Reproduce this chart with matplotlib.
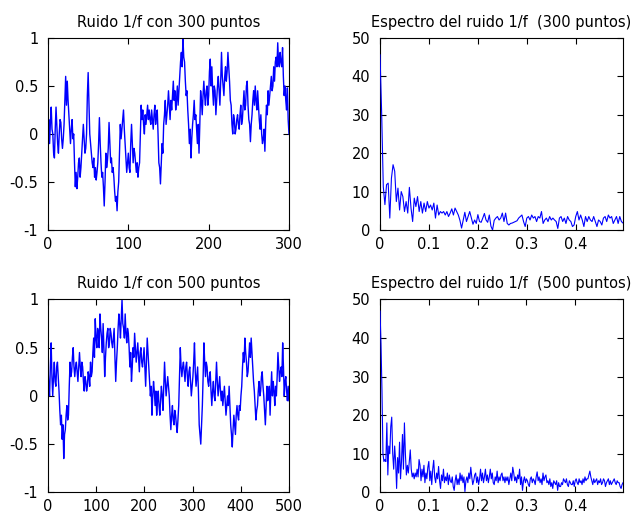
import numpy as np
import matplotlib
matplotlib.use("Agg")
import matplotlib.pyplot as plt

# --- Datos: ruido 1/f y su espectro ---
# ruido de 300 puntos
ruido_300 = [
    0.05, 0.15, -0.1, 0.12, 0.28, 0.05, 0.0, -0.2, -0.25, 0.05,
    0.28, 0.1, -0.1, -0.2, 0.0, 0.15, 0.12, -0.05, -0.15, -0.05,
    0.1, 0.35, 0.6, 0.3, 0.55, 0.35, 0.2, 0.05, -0.1, 0.05,
    0.15, -0.05, 0.0, -0.3, -0.55, -0.4, -0.57, -0.45, -0.3, -0.25,
    -0.45, -0.35, -0.2, -0.05, 0.1, -0.05, -0.2, -0.15, 0.0, 0.4,
    0.64, 0.3, 0.0, -0.1, -0.2, -0.3, -0.35, -0.25, -0.45, -0.35,
    -0.48, -0.4, -0.3, -0.1, 0.17, -0.1, -0.3, -0.45, -0.4, -0.55,
    -0.75, -0.5, -0.2, -0.35, -0.28, -0.15, 0.12, -0.1, -0.3, -0.25,
    -0.4, -0.35, -0.45, -0.6, -0.7, -0.65, -0.8, -0.6, -0.5, -0.2,
    0.1, -0.05, 0.05, 0.15, 0.25, 0.05, -0.1, -0.25, -0.4, -0.3,
    -0.2, -0.35, -0.4, -0.1, 0.1, -0.1, -0.3, -0.15, -0.2, -0.3,
    -0.4, -0.3, -0.45, -0.35, -0.3, 0.0, 0.3, 0.15, 0.25, 0.1,
    0.0, 0.2, 0.1, 0.2, 0.3, 0.15, 0.25, 0.15, 0.1, 0.25,
    0.15, 0.05, 0.2, 0.3, 0.1, 0.2, 0.25, 0.0, -0.3, -0.35,
    -0.52, -0.3, -0.1, -0.2, 0.1, 0.2, 0.35, 0.1, 0.2, 0.3,
    0.45, 0.3, 0.15, 0.35, 0.25, 0.4, 0.55, 0.35, 0.45, 0.25,
    0.35, 0.5, 0.3, 0.45, 0.6, 0.75, 0.85, 0.7, 1.0, 0.8,
    0.75, 0.55, 0.4, 0.45, 0.25, 0.1, -0.1, 0.05, -0.25, -0.05,
    0.1, 0.2, 0.35, 0.15, 0.2, 0.05, -0.1, 0.1, -0.2, 0.1,
    0.45, 0.35, 0.2, 0.4, 0.55, 0.4, 0.3, 0.45, 0.5, 0.3,
    0.4, 0.65, 0.78, 0.5, 0.7, 0.45, 0.3, 0.5, 0.45, 0.2,
    0.35, 0.5, 0.6, 0.45, 0.3, 0.55, 0.85, 0.6, 0.5, 0.4,
    0.6, 0.7, 0.55, 0.65, 0.85, 0.7, 0.55, 0.35, 0.3, 0.1,
    0.0, 0.2, 0.15, 0.0, 0.05, 0.15, 0.2, 0.1, 0.05, 0.2,
    0.3, 0.1, 0.15, 0.3, 0.45, 0.25, 0.3, 0.5, 0.55, 0.3,
    0.15, 0.1, -0.08, 0.1, 0.2, 0.35, 0.45, 0.3, 0.5, 0.35,
    0.25, 0.45, 0.3, 0.15, 0.05, 0.2, 0.0, -0.1, -0.05, 0.05,
    -0.18, 0.1, 0.3, 0.2, 0.45, 0.3, 0.4, 0.5, 0.6, 0.45,
    0.5, 0.7, 0.55, 0.75, 0.8, 0.7, 0.95, 0.75, 0.7, 0.85,
    0.75, 0.7, 0.9, 0.6, 0.4, 0.5, 0.35, 0.25, 0.48, 0.15,
    0.0,
]

# ruido de 500 puntos
ruido_500 = [
    0.3, 0.1, 0.0, 0.3, 0.55, 0.2, 0.0, 0.2, 0.35, 0.15, 0.1, 0.3, 0.35, 0.2, 0.05, -0.15, -0.3, -0.2, -0.45, -0.3,
    -0.65, -0.4, -0.35, -0.2, -0.1, -0.25, -0.2, 0.1, 0.35, 0.2, 0.25, 0.4, 0.5, 0.3, 0.2, 0.3, 0.35, 0.25, 0.15, 0.3,
    0.45, 0.3, 0.2, 0.35, 0.3, 0.15, 0.05, 0.2, 0.15, 0.05, 0.1, 0.25, 0.2, 0.1, 0.35, 0.2, 0.25, 0.45, 0.6, 0.4,
    0.8, 0.6, 0.5, 0.7, 0.65, 0.5, 0.85, 0.7, 0.6, 0.45, 0.75, 0.5, 0.2, 0.4, 0.55, 0.65, 0.7, 0.5, 0.55, 0.7,
    0.65, 0.55, 0.5, 0.6, 0.7, 0.4, 0.15, 0.35, 0.5, 0.7, 0.85, 0.75, 0.6, 0.8, 1.0, 0.75, 0.7, 0.6, 0.85, 0.65,
    0.55, 0.7, 0.65, 0.5, 0.3, 0.45, 0.15, 0.3, 0.5, 0.4, 0.65, 0.5, 0.35, 0.45, 0.55, 0.4, 0.25, 0.45, 0.5, 0.35,
    0.3, 0.4, 0.5, 0.3, 0.1, 0.35, 0.6, 0.45, 0.3, 0.15, 0.0, 0.1, -0.2, 0.0, 0.15, 0.05, -0.1, 0.05, -0.2, -0.05,
    0.05, -0.1, -0.2, -0.05, 0.1, 0.0, -0.15, 0.1, 0.35, 0.15, 0.0, 0.1, 0.2, 0.1, 0.0, -0.2, -0.35, -0.2, -0.1, -0.25,
    -0.3, -0.15, -0.2, -0.3, -0.38, -0.25, -0.1, 0.2, 0.5, 0.3, 0.2, 0.3, 0.35, 0.25, 0.15, 0.3, 0.35, 0.2, 0.1, 0.25,
    0.3, 0.15, 0.0, 0.1, 0.2, 0.35, 0.55, 0.25, 0.1, 0.2, 0.3, 0.05, -0.3, -0.4, -0.5, -0.3, -0.1, 0.2, 0.55, 0.35,
    0.2, 0.35, 0.3, 0.15, 0.1, 0.2, 0.25, 0.05, -0.1, 0.05, 0.15, 0.0, -0.05, 0.15, 0.35, 0.15, 0.0, 0.1, 0.2, 0.05,
    -0.05, 0.05, -0.1, 0.0, 0.1, -0.05, -0.2, -0.1, 0.0, -0.1, 0.1, -0.1, -0.3, -0.4, -0.53, -0.35, -0.2, -0.3, -0.4, -0.2,
    -0.1, -0.2, -0.25, -0.1, -0.15, 0.0, 0.1, 0.3, 0.45, 0.35, 0.6, 0.45, 0.35, 0.2, 0.25, 0.4, 0.55, 0.4, 0.6, 0.45,
    0.3, 0.15, 0.05, -0.1, -0.25, -0.15, -0.1, 0.05, 0.15, 0.0, 0.05, 0.2, 0.25, 0.1, 0.0, -0.15, -0.3, -0.1, 0.1, -0.05,
    0.0, 0.1, -0.2, 0.05, 0.25, 0.0, 0.15, 0.05, -0.1, 0.1, 0.0, 0.2, 0.45, 0.3, 0.15, 0.25, 0.3, 0.2, 0.55, 0.3,
    0.0, 0.15, 0.2, 0.05, -0.05, 0.1, -0.05,
]

# módulo del espectro, 300 puntos (150 frecuencias)
espectro_300 = [
    45.6, 30.5, 11.3, 6.6, 11.8, 12.2, 3.1, 13.5, 17.0, 15.3,
    7.4, 10.9, 5.2, 10.0, 8.7, 4.8, 7.4, 4.4, 11.1, 5.7,
    2.2, 8.3, 6.1, 8.7, 4.8, 7.4, 4.4, 7.0, 4.8, 7.4,
    5.7, 6.5, 5.2, 7.0, 3.1, 6.5, 3.9, 4.8, 4.4, 4.8,
    3.9, 4.8, 3.5, 4.4, 5.5, 3.9, 5.7, 4.8, 3.9, 2.5,
    0.5, 2.6, 4.6, 2.2, 3.5, 4.8, 3.1, 1.5, 2.6, 1.7,
    4.0, 2.2, 2.0, 3.1, 4.3, 2.6, 2.0, 3.9, 1.0, 0.0,
    2.5, 3.1, 3.5, 2.6, 3.1, 4.4, 2.2, 4.4, 1.7, 1.3,
    1.7, 1.8, 2.0, 2.2, 2.4, 3.1, 3.5, 3.9, 2.2, 0.9,
    3.1, 3.5, 2.6, 3.9, 3.1, 3.5, 2.2, 3.5, 3.1, 4.8,
    1.7, 2.6, 3.1, 2.2, 3.5, 2.6, 3.1, 2.6, 2.2, 0.4,
    3.1, 3.5, 2.2, 3.1, 1.7, 3.5, 2.6, 2.2, 0.9, 1.3,
    3.5, 4.8, 2.6, 3.9, 2.6, 0.9, 3.5, 2.2, 3.5, 2.6,
    2.2, 3.5, 2.2, 0.9, 2.6, 2.2, 1.3, 3.1, 3.5, 2.2,
    3.9, 3.1, 3.5, 1.7, 2.6, 3.5, 1.7, 3.5, 2.2, 1.8,
]

# módulo del espectro, 500 puntos (250 frecuencias)
espectro_500 = [
    47, 38.5, 26.4, 10, 8, 8.5, 8, 18, 4.5, 12,
    10, 17, 19.5, 10, 6, 12, 8, 1, 9, 5,
    13, 3.5, 8, 15, 6, 18, 10, 4.5, 7, 5,
    8, 11, 6, 4, 5, 3.5, 5, 4, 6, 4,
    8.5, 7, 3, 6, 4, 7, 2.5, 5, 3.5, 6.5,
    8, 3, 5.5, 2, 6, 8.3, 4, 2.5, 5, 3.5,
    6.7, 3, 1, 4.5, 3, 6, 2.5, 4, 3, 5,
    2, 4.5, 3, 2.5, 4, 1.5, 0.5, 3, 4.5, 2,
    3.5, 2, 5, 3, 4.5, 2.5, 4, 0.2, 3, 4,
    2.5, 5, 3.5, 6.5, 4, 2, 3, 4.5, 5, 2.5,
    4, 2, 3.5, 6, 3, 5, 2.5, 4, 6, 3,
    4.5, 2.5, 4, 6, 3.5, 5, 2.5, 2, 4, 3,
    5.5, 2.5, 4, 3, 4.5, 5, 3, 4, 2.5, 4,
    3, 4, 2, 3.5, 5, 3, 6.5, 5, 3, 4,
    2.5, 4.5, 3.5, 6, 2, 4, 0.5, 3, 4, 2.5,
    3.5, 3, 2, 1.5, 3.5, 4, 2.5, 3.5, 3, 2,
    4, 5.3, 3, 4, 2.5, 3.5, 2, 5, 3, 4,
    4.5, 2.5, 3, 2, 3.5, 1.5, 2.5, 1, 3, 2.5,
    2, 3, 0.5, 2.5, 1.5, 1.5, 2.5, 2, 3.5, 3,
    2.5, 3.5, 2, 1.5, 3, 2.5, 2, 2, 3, 1.5,
    3, 3.5, 2.5, 2, 3.5, 2.5, 3, 2, 3.5, 2.5,
    4, 3, 3.5, 3.5, 4.5, 5.5, 4, 3, 2, 3.5,
    2.5, 3, 3.5, 2, 3, 2.5, 3.5, 2, 2.5, 3.5,
    3, 1.5, 2.5, 3, 3.5, 2, 3, 2, 2.5, 3,
    3.5, 2.5, 2, 3, 2.5, 2.5, 1.5, 1, 2, 2.5,
]

titulos = ["Ruido 1/f con 300 puntos", "Espectro del ruido 1/f  (300 puntos)",
           "Ruido 1/f con 500 puntos", "Espectro del ruido 1/f  (500 puntos)"]


def estilo_ejes(ax):
    # caja completa con marcas hacia dentro, como en MATLAB
    ax.tick_params(direction="in", top=True, right=True, length=4,
                   width=0.8, labelsize=10.5)
    ax.tick_params(axis="y", pad=7)
    ax.tick_params(axis="x", pad=5)
    for s in ax.spines.values():
        s.set_linewidth(0.8)


plt.rcParams["font.family"] = ["DejaVu Sans"]
fig = plt.figure(figsize=(6.34, 5.16), dpi=100)

pos = [
    [0.0757, 0.5543, 0.3801, 0.3721],
    [0.5994, 0.5543, 0.3833, 0.3721],
    [0.0757, 0.0459, 0.3801, 0.3737],
    [0.5994, 0.0459, 0.3833, 0.3737],
]
axs = [fig.add_axes(p) for p in pos]

for ax, serie, n in [(axs[0], ruido_300, 300), (axs[2], ruido_500, 500)]:
    t = np.linspace(0, n, len(serie))
    ax.plot(t, serie, color="#0000ff", lw=1.0)
    ax.set_xlim(0, n)
    ax.set_ylim(-1, 1)
    ax.set_yticks([-1, -0.5, 0, 0.5, 1])
    ax.set_yticklabels(["-1", "-0.5", "0", "0.5", "1"])
    ax.set_xticks(np.arange(0, n + 1, 100))

for ax, esp, n in [(axs[1], espectro_300, 300), (axs[3], espectro_500, 500)]:
    f = np.arange(len(esp)) / n
    # la línea va encima del marco para que se vea el pico en f = 0
    ax.plot(f, esp, color="#0000ff", lw=0.8, zorder=3)
    ax.set_xlim(0, f[-1])
    ax.set_ylim(0, 50)
    ax.set_yticks(np.arange(0, 51, 10))
    ax.set_xticks([0, 0.1, 0.2, 0.3, 0.4])
    ax.set_xticklabels(["0", "0.1", "0.2", "0.3", "0.4"])

for ax, tit in zip(axs, titulos):
    estilo_ejes(ax)
    ax.set_title(tit, fontsize=10.5, pad=8)

fig.savefig("out.png", dpi=100)
